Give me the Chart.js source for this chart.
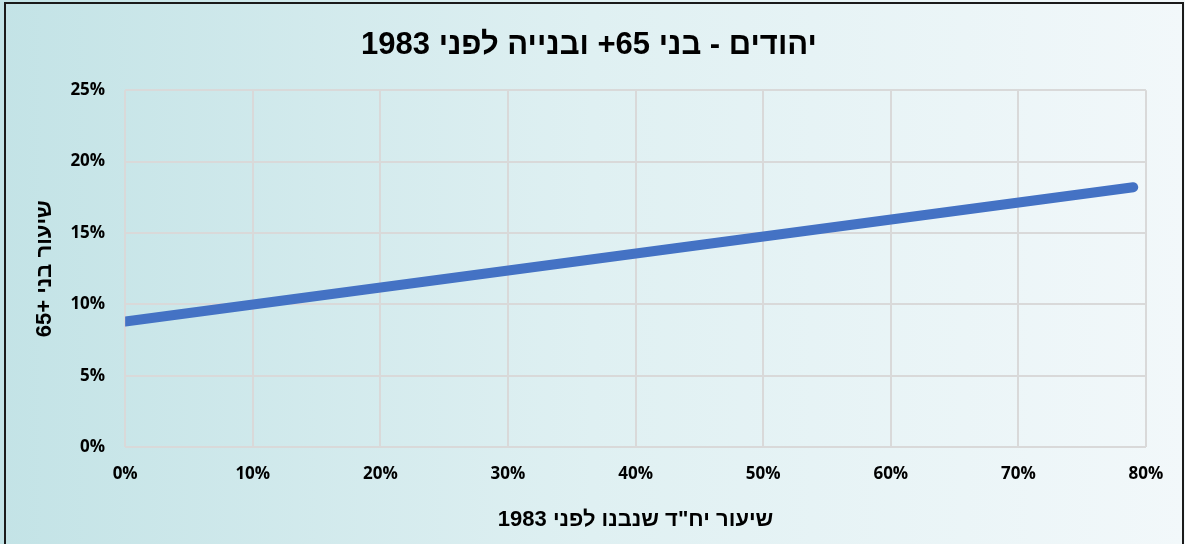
<!DOCTYPE html>
<html lang="he">
<head>
<meta charset="utf-8">
<script src="https://cdn.jsdelivr.net/npm/chart.js@4"></script>
<style>
  html, body { margin: 0; padding: 0; background: #fff; }
  #wrap { width: 1185px; height: 544px; }
</style>
</head>
<body>
<div id="wrap"><canvas id="chart" dir="rtl"></canvas></div>
<script>
// נתונים
const xValues = [0, 0.79];        // שיעור יח"ד שנבנו לפני 1983
const yValues = [0.088, 0.182];   // שיעור בני 65+
const xTicks = [0, 0.1, 0.2, 0.3, 0.4, 0.5, 0.6, 0.7, 0.8];
const yTicks = [0, 0.05, 0.1, 0.15, 0.2, 0.25];

// "+65" מבודד כדי לשמור על סדר התצוגה
const titleText = 'יהודים - בני \u2066+65\u2069 ובנייה לפני 1983';
const xTitle = 'שיעור יח"ד שנבנו לפני 1983';
const yTitle = 'שיעור בני \u206665+\u2069';

// רקע מדורג ומסגרת
const bgPlugin = {
    id: 'bg',
    beforeDraw(chart) {
        const ctx = chart.ctx;
        const w = chart.width, h = chart.height;
        const g = ctx.createLinearGradient(0, 0, w, 0);
        g.addColorStop(0, '#c3e3e6');
        g.addColorStop(0.5, '#dff0f2');
        g.addColorStop(1, '#f2f8fa');
        ctx.save();
        ctx.fillStyle = g;
        ctx.fillRect(0, 0, w, h);
        ctx.strokeStyle = '#1a1a1a';
        ctx.lineWidth = 2;
        ctx.strokeRect(5, 3, w - 7, h + 10);
        ctx.restore();
    }
};

const pct = v => Math.round(v * 100) + '%';

new Chart(document.getElementById('chart'), {
    type: 'scatter',
    data: {
        datasets: [{
            data: xValues.map((x, i) => ({ x: x, y: yValues[i] })),
            showLine: true,
            borderColor: '#4472c4',
            backgroundColor: '#4472c4',
            borderWidth: 10,
            borderCapStyle: 'round',
            pointRadius: 0
        }]
    },
    options: {
        responsive: true,
        maintainAspectRatio: false,
        animation: false,
        layout: { padding: { left: 32, right: 39, top: 27, bottom: 11 } },
        plugins: {
            legend: { display: false },
            tooltip: { enabled: false },
            title: {
                display: true,
                text: titleText,
                color: '#000',
                font: { family: 'Liberation Sans, Arial', size: 31, weight: 'bold' },
                padding: { top: 0, bottom: 26 }
            }
        },
        scales: {
            x: {
                type: 'linear',
                min: 0,
                max: 0.8,
                afterBuildTicks: axis => { axis.ticks = xTicks.map(v => ({ value: v })); },
                ticks: {
                    callback: pct,
                    color: '#000',
                    font: { family: 'Open Sans', size: 17, weight: 'bold' },
                    padding: 17
                },
                grid: { color: '#d9d9d9', lineWidth: 2, drawTicks: false },
                border: { display: false },
                title: {
                    display: true,
                    text: xTitle,
                    color: '#000',
                    font: { family: 'Liberation Sans, Arial', size: 22, weight: 'bold' },
                    padding: { top: 5, bottom: 0 }
                }
            },
            y: {
                min: 0,
                max: 0.25,
                afterBuildTicks: axis => { axis.ticks = yTicks.map(v => ({ value: v })); },
                ticks: {
                    callback: pct,
                    color: '#000',
                    font: { family: 'Open Sans', size: 17, weight: 'bold' },
                    padding: 20
                },
                grid: { color: '#d9d9d9', lineWidth: 2, drawTicks: false },
                border: { display: false },
                title: {
                    display: true,
                    text: yTitle,
                    color: '#000',
                    font: { family: 'Liberation Sans, Arial', size: 22, weight: 'bold' },
                    padding: { top: 0, bottom: -8 }
                }
            }
        }
    },
    plugins: [bgPlugin]
});
</script>
</body>
</html>
